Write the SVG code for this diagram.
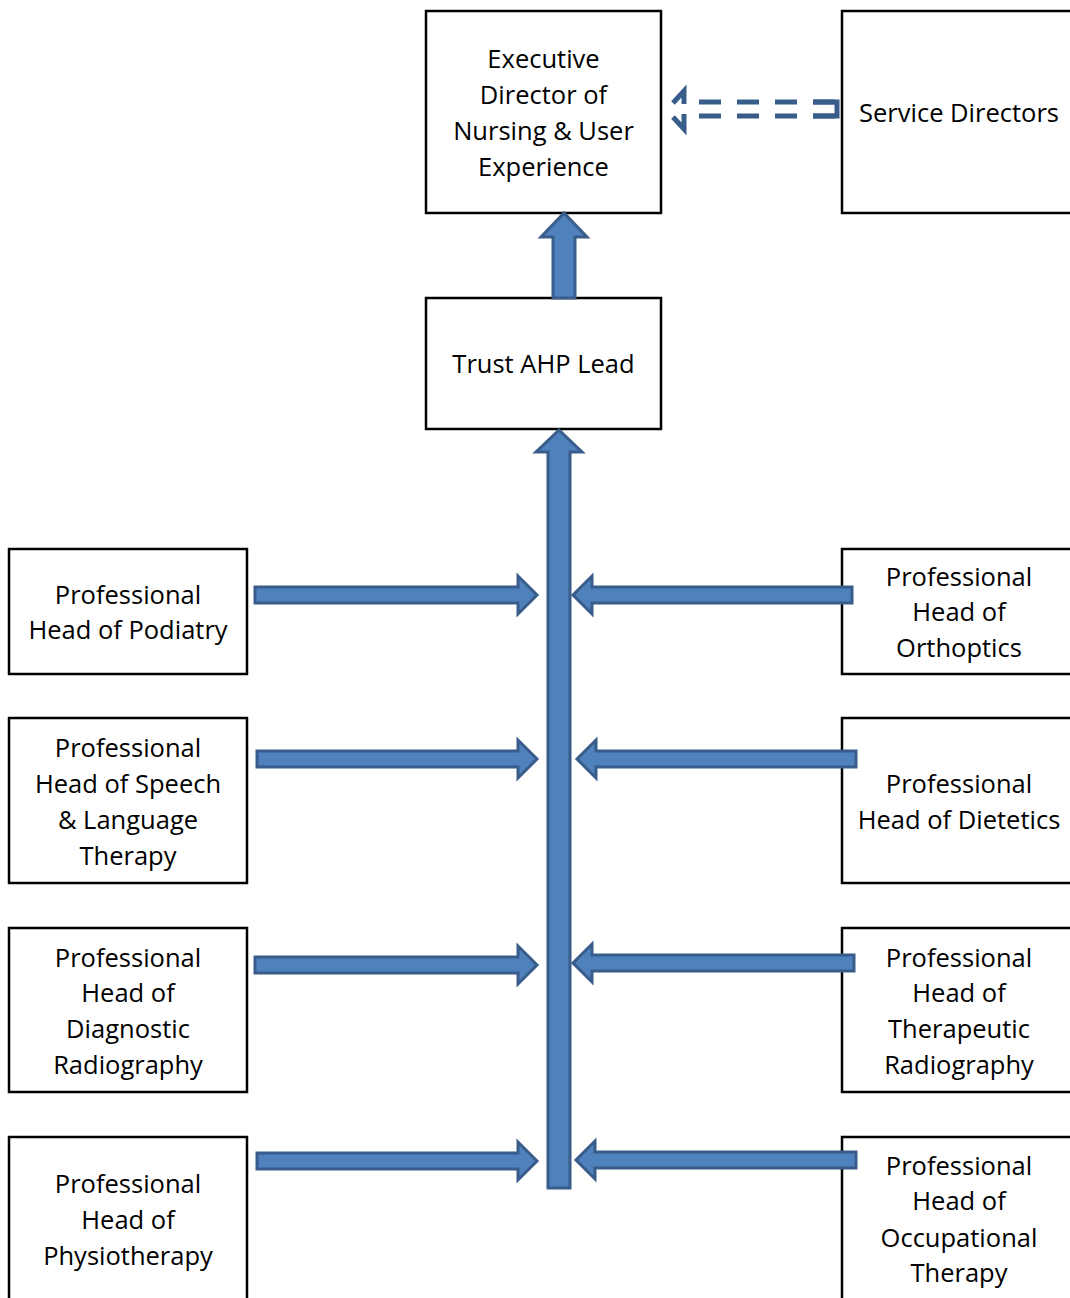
<svg xmlns="http://www.w3.org/2000/svg" width="1070" height="1298" viewBox="0 0 1070 1298">
<style>
.box{fill:#fff;stroke:#000;stroke-width:2.5}
.t{font-family:"Open Sans","Liberation Sans",sans-serif;font-size:25.5px;fill:#000;text-anchor:middle}
.arr{fill:#4F81BD;stroke:#385D8A;stroke-width:3;stroke-linejoin:miter}
.dl{fill:none;stroke:#385D8A;stroke-width:5}
.dash{stroke-dasharray:22 16}
</style>
<rect width="1070" height="1298" fill="#fff"/>
<g id="exec"><rect class="box" x="426" y="11" width="235" height="202"/>
<text class="t" x="543.5" y="68">Executive</text><text class="t" x="543.5" y="104">Director of</text><text class="t" x="543.5" y="140">Nursing &amp; User</text><text class="t" x="543.5" y="176">Experience</text></g>
<g id="service"><rect class="box" x="842" y="11" width="240" height="202"/>
<text class="t" x="959" y="122">Service Directors</text></g>
<g id="trust"><rect class="box" x="426" y="298" width="235" height="131"/>
<text class="t" x="543.5" y="373">Trust AHP Lead</text></g>
<g id="podiatry"><rect class="box" x="9" y="549" width="238" height="125"/>
<text class="t" x="128" y="604">Professional</text><text class="t" x="128" y="639">Head of Podiatry</text></g>
<g id="speech"><rect class="box" x="9" y="718" width="238" height="165"/>
<text class="t" x="128" y="757">Professional</text><text class="t" x="128" y="793">Head of Speech</text><text class="t" x="128" y="829">&amp; Language</text><text class="t" x="128" y="865">Therapy</text></g>
<g id="diagnostic"><rect class="box" x="9" y="928" width="238" height="164"/>
<text class="t" x="128" y="967">Professional</text><text class="t" x="128" y="1002">Head of</text><text class="t" x="128" y="1038">Diagnostic</text><text class="t" x="128" y="1074">Radiography</text></g>
<g id="physio"><rect class="box" x="9" y="1137" width="238" height="175"/>
<text class="t" x="128" y="1193">Professional</text><text class="t" x="128" y="1229">Head of</text><text class="t" x="128" y="1265">Physiotherapy</text></g>
<g id="orthoptics"><rect class="box" x="842" y="549" width="240" height="125"/>
<text class="t" x="959" y="586">Professional</text><text class="t" x="959" y="621">Head of</text><text class="t" x="959" y="657">Orthoptics</text></g>
<g id="dietetics"><rect class="box" x="842" y="718" width="240" height="165"/>
<text class="t" x="959" y="793">Professional</text><text class="t" x="959" y="829">Head of Dietetics</text></g>
<g id="therapeutic"><rect class="box" x="842" y="928" width="240" height="164"/>
<text class="t" x="959" y="967">Professional</text><text class="t" x="959" y="1002">Head of</text><text class="t" x="959" y="1038">Therapeutic</text><text class="t" x="959" y="1074">Radiography</text></g>
<g id="occupational"><rect class="box" x="842" y="1137" width="240" height="175"/>
<text class="t" x="959" y="1175">Professional</text><text class="t" x="959" y="1210">Head of</text><text class="t" x="959" y="1247">Occupational</text><text class="t" x="959" y="1282">Therapy</text></g>
<g id="connectors">
<g id="dashed-arrow">
<polyline class="dl" points="684,104 684,91 673,103"/>
<polyline class="dl" points="673,117 684,129 684,114"/>
<line class="dl dash" x1="699" y1="102" x2="835" y2="102"/>
<line class="dl dash" x1="699" y1="116" x2="835" y2="116"/>
<polyline class="dl" points="813,102 837,102 837,116 813,116"/>
</g>
<path class="arr" d="M553,298 L553,237 L541,237 L564,213 L587,237 L575,237 L575,298 Z"/>
<path class="arr" d="M548,1188 L548,452 L536,452 L559,430 L582,452 L570,452 L570,1188 Z"/>
<path class="arr" d="M255,587 L518,587 L518,576 L537,595 L518,614 L518,603 L255,603 Z"/>
<path class="arr" d="M257,751 L518,751 L518,740 L537,759 L518,778 L518,767 L257,767 Z"/>
<path class="arr" d="M255,957 L518,957 L518,946 L537,965 L518,984 L518,973 L255,973 Z"/>
<path class="arr" d="M257,1153 L518,1153 L518,1142 L537,1161 L518,1180 L518,1169 L257,1169 Z"/>
<path class="arr" d="M852,587 L592,587 L592,576 L573,595 L592,614 L592,603 L852,603 Z"/>
<path class="arr" d="M856,751 L596,751 L596,740 L577,759 L596,778 L596,767 L856,767 Z"/>
<path class="arr" d="M854,955 L592,955 L592,944 L573,963 L592,982 L592,971 L854,971 Z"/>
<path class="arr" d="M856,1152 L595,1152 L595,1141 L576,1160 L595,1179 L595,1168 L856,1168 Z"/>
</g>
</svg>
